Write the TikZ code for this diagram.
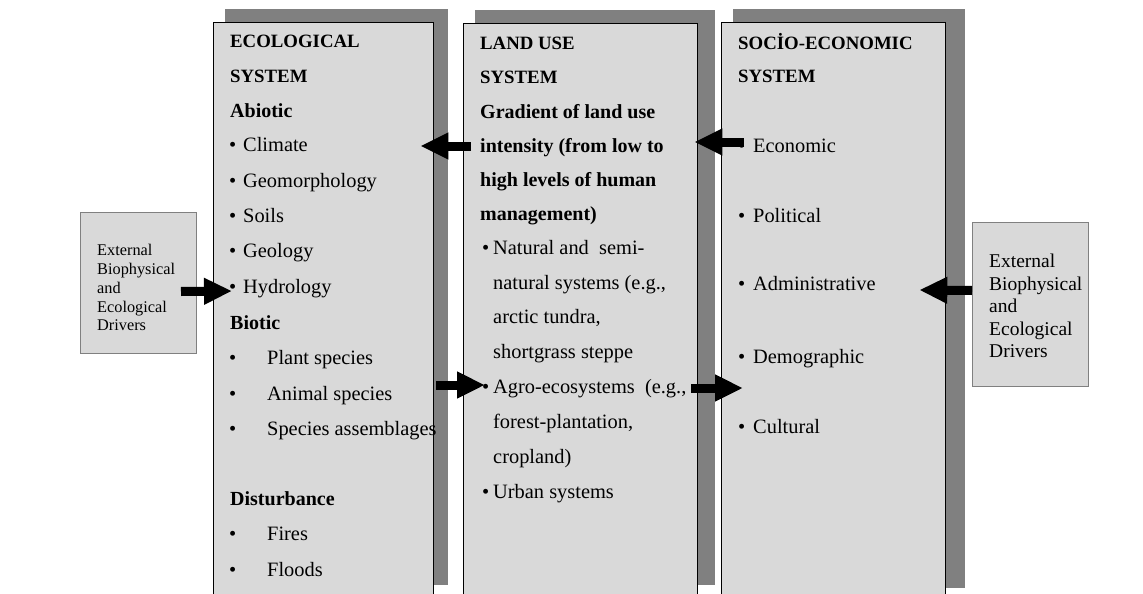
\documentclass[tikz,border=0pt]{standalone}
\usepackage{fontspec}
\setmainfont{Liberation Serif}
\usetikzlibrary{arrows.meta,calc}
\definecolor{boxgray}{HTML}{D9D9D9}
\definecolor{shadowgray}{HTML}{808080}
\definecolor{edgegray}{HTML}{808080}
\newcommand\myblt[1]{\makebox[#1][l]{\textbullet}}
\begin{document}
\begin{tikzpicture}[x=1pt,y=-1pt,
  mainbox/.style={draw=black, line width=1.3pt, fill=boxgray, anchor=north west, inner sep=0pt},
  extbox/.style={draw=edgegray, line width=1pt, fill=boxgray, anchor=north west, inner sep=0pt},
  body/.style={anchor=base west, inner sep=0pt, font=\fontsize{20.4}{24}\selectfont},
  head/.style={anchor=base west, inner sep=0pt, font=\fontsize{18.8}{22}\selectfont\bfseries},
  subhead/.style={anchor=base west, inner sep=0pt, font=\fontsize{20}{24}\selectfont\bfseries},
  smalltext/.style={anchor=base west, inner sep=0pt, font=\fontsize{16.3}{19}\selectfont},
  midtext/.style={anchor=base west, inner sep=0pt, font=\fontsize{19.5}{23}\selectfont},
  bigarrow/.style={line width=9pt, -{Triangle[length=28pt,width=25pt]}},
]
\useasboundingbox (0,0) rectangle (1143,594);
\clip (0,0) rectangle (1143,594);

% shadows
\fill[shadowgray] (225,9) rectangle (448,585);
\fill[shadowgray] (475,10) rectangle (715,585);
\fill[shadowgray] (733,9) rectangle (965,588);

% boxes
\node[mainbox, minimum width=220pt, minimum height=590pt] (eco) at (213,22) {};
\node[mainbox, minimum width=234pt, minimum height=590pt] (land) at (463,23) {};
\node[mainbox, minimum width=224pt, minimum height=590pt] (socio) at (721,22) {};
\node[extbox, minimum width=116pt, minimum height=141pt] (extL) at (80,212) {};
\node[extbox, minimum width=116pt, minimum height=164pt] (extR) at (972,222) {};

% ecological system
\foreach \y/\t [count=\i] in {48/ECOLOGICAL, 82/SYSTEM}
  \node[head] (ecoh\i) at (230,\y) {\t};
\node[subhead] (ecoabiotic) at (230,117) {Abiotic};
\foreach \y/\t [count=\i] in {151/Climate, 187/Geomorphology, 222/Soils, 257/Geology, 293/Hydrology}
  \node[body] (ecoa\i) at (229,\y) {\myblt{14pt}\t};
\node[subhead] (ecobiotic) at (230,329) {Biotic};
\foreach \y/\t [count=\i] in {364/{Plant species}, 400/{Animal species}, 435/{Species assemblages}}
  \node[body] (ecob\i) at (229,\y) {\myblt{38pt}\t};
\node[subhead] (ecodist) at (230,505) {Disturbance};
\foreach \y/\t [count=\i] in {540/Fires, 576/Floods}
  \node[body] (ecod\i) at (229,\y) {\myblt{38pt}\t};

% land use system
\foreach \y/\t [count=\i] in {50/{LAND USE}, 84/SYSTEM}
  \node[head] (landh\i) at (480,\y) {\t};
\foreach \y/\t [count=\i] in {118/{Gradient of land use}, 152/{intensity (from low to}, 186/{high levels of human}, 220/{management)}}
  \node[subhead] (landg\i) at (480,\y) {\t};
\node[body] (landn1) at (482,254) {\myblt{11pt}Natural and\ \ semi-};
\foreach \y/\t [count=\i] in {289/{natural systems (e.g.,}, 323/{arctic tundra,}, 358/{shortgrass steppe}}
  \node[body] (landn\i x) at (493,\y) {\t};
\node[body] (landa1) at (482,393) {\myblt{11pt}Agro-ecosystems\ \ (e.g.,};
\foreach \y/\t [count=\i] in {428/{forest-plantation,}, 463/{cropland)}}
  \node[body] (landa\i x) at (493,\y) {\t};
\node[body] (landu) at (482,498) {\myblt{11pt}Urban systems};

% socio-economic system
\foreach \y/\t [count=\i] in {50/{SOCİO-ECONOMIC}, 82/SYSTEM}
  \node[head] (socioh\i) at (738,\y) {\t};
\foreach \y/\t [count=\i] in {152/Economic, 222/Political, 290/Administrative, 363/Demographic, 433/Cultural}
  \node[body] (socioi\i) at (738,\y) {\myblt{15pt}\t};

% external drivers
\foreach \y/\t [count=\i] in {255/External, 274/Biophysical, 293/and, 312/Ecological, 330/Drivers}
  \node[smalltext] (extLt\i) at (97,\y) {\t};
\foreach \y/\t [count=\i] in {267/External, 290/Biophysical, 312/and, 335/Ecological, 357/Drivers}
  \node[midtext] (extRt\i) at (989,\y) {\t};

% arrows
\draw[bigarrow] ($(land.north west)+(8,123)$) -- ($(eco.north east)+(-14,124)$);
\draw[bigarrow] ($(socio.north west)+(23,120)$) -- ($(land.north east)+(-4,119)$);
\draw[bigarrow] ($(extL.east)+(-16,8.5)$) -- ($(eco.north west)+(19,269)$);
\draw[bigarrow] ($(eco.north east)+(2,363)$) -- ($(land.north west)+(22,362)$);
\draw[bigarrow] ($(land.north east)+(-7,365)$) -- ($(socio.north west)+(22,366)$);
\draw[bigarrow] ($(extR.west)+(0,-14)$) -- ($(socio.north east)+(-27,268)$);
\end{tikzpicture}
\end{document}
